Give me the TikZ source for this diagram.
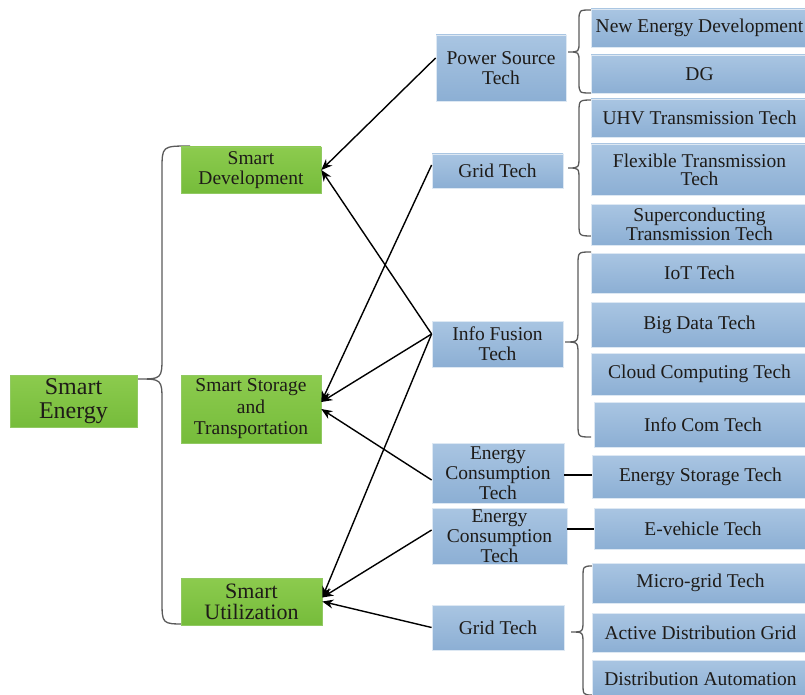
\documentclass[tikz,border=0pt]{standalone}
\usepackage{fontspec}
\setmainfont{Liberation Serif}
\usetikzlibrary{arrows.meta}

\definecolor{grnT}{HTML}{8CCB4E}
\definecolor{grnB}{HTML}{76BC3B}
\definecolor{bluT}{HTML}{A9C5E2}
\definecolor{bluB}{HTML}{8CAFD4}
\definecolor{ink}{HTML}{1E1B18}
\definecolor{bracec}{HTML}{5A5A5A}

\tikzset{
  box/.style={rectangle, inner sep=0pt, align=center, text=ink,
    font=\fontsize{19.5}{20}\selectfont},
  greenbox/.style={box, top color=grnT, bottom color=grnB, draw=grnB!80!white, line width=0.6pt},
  bluebox/.style={box, top color=bluT, bottom color=bluB, draw=white!60!bluT, line width=0.8pt},
  topic/.style={bluebox, minimum width=217pt},
  sz/.style 2 args={minimum width=#1pt, minimum height=#2pt},
  ht/.style={minimum height=#1pt},
  link/.style={draw=black, line width=1.4pt, -{Stealth[length=11pt,width=9pt]}},
  plain/.style={draw=black, line width=1.5pt},
  brace/.style={draw=bracec, line width=1.3pt},
}

\begin{document}
\begin{tikzpicture}[x=1pt, y=-1pt]
\useasboundingbox (0,0) rectangle (805,695);
\clip (0,0) rectangle (805,695);

% braces
\draw[brace] (190,146) .. controls (162,146) .. (162,170) -- (162,356)
  .. controls (162,379) .. (137,379) .. controls (162,379) .. (162,402)
  -- (162,600) .. controls (162,624) .. (185,624);
\draw[brace] (591,10) .. controls (579,10) .. (579,21) -- (579,42)
  .. controls (579,52) .. (568,52) .. controls (579,52) .. (579,62)
  -- (579,82) .. controls (579,93) .. (591,93);
\draw[brace] (593,100) .. controls (579,100) .. (579,112) -- (579,156)
  .. controls (579,168) .. (568,168) .. controls (579,168) .. (579,180)
  -- (579,224) .. controls (579,236) .. (593,236);
\draw[brace] (591,252) .. controls (578,252) .. (578,265) -- (578,329)
  .. controls (578,342) .. (565,342) .. controls (578,342) .. (578,355)
  -- (578,424) .. controls (578,437) .. (591,437);
\draw[brace] (593,566) .. controls (583,566) .. (583,578) -- (583,620)
  .. controls (583,632) .. (571,632) .. controls (583,632) .. (583,644)
  -- (583,683) .. controls (583,695) .. (593,695);

% goals
\node[greenbox, sz={127}{52}, font=\fontsize{24}{24}\selectfont] (se) at (73.5,401) {Smart\\Energy};
\node[greenbox, sz={140}{46}] (sd) at (251,170) {Smart\\Development};
\node[greenbox, sz={140}{68}, font=\fontsize{19.5}{21.5}\selectfont] (ss) at (251,409) {Smart Storage\\and\\Transportation};
\node[greenbox, sz={141}{47}, font=\fontsize{22}{21}\selectfont] (su) at (251.5,601.5) {Smart\\Utilization};

% technology groups
\node[bluebox, sz={130}{66}] (ps) at (501,68) {Power Source\\Tech};
\node[bluebox, sz={131}{34}] (gt1) at (497.5,171) {Grid Tech};
\node[bluebox, sz={131}{46}] (ifu) at (497.5,344) {Info Fusion\\Tech};
\node[bluebox, sz={132}{60}] (ec1) at (498,473) {Energy\\Consumption\\Tech};
\node[bluebox, sz={135}{56}] (ec2) at (499.5,536) {Energy\\Consumption\\Tech};
\node[bluebox, sz={132}{45}] (gt2) at (498,627.5) {Grid Tech};

% individual technologies
\node[topic, ht=38] (ned) at (699.5,28) {New Energy Development};
\node[topic, ht=38] (dg) at (699.5,74) {DG};
\node[topic, ht=38] (uhv) at (699.5,118) {UHV Transmission Tech};
\node[topic, ht=51, font=\fontsize{19.5}{18}\selectfont] (flex) at (699.5,169.5) {Flexible Transmission\\Tech};
\node[topic, ht=41, font=\fontsize{19.5}{17}\selectfont] (sup) at (699.5,224.5) {Superconducting\\Transmission Tech};
\node[topic, ht=40] (iot) at (699.5,273) {IoT Tech};
\node[topic, ht=45] (bd) at (699.5,324.5) {Big Data Tech};
\node[topic, ht=42] (cc) at (699.5,374) {Cloud Computing Tech};
\node[topic, ht=45] (ic) at (703,424.5) {Info Com Tech};
\node[topic, ht=43] (es) at (700.5,476.5) {Energy Storage Tech};
\node[topic, ht=41] (ev) at (703,528.5) {E-vehicle Tech};
\node[topic, ht=40] (mg) at (700.5,583) {Micro-grid Tech};
\node[topic, ht=39] (adg) at (700.5,632.5) {Active Distribution Grid};
\node[topic, ht=38] (da) at (700.5,679) {Distribution Automation};

% support links
\draw[link] ([yshift=10pt]ps.west) -- (sd.east);
\draw[link] ([yshift=10pt]ifu.west) -- (sd.east);
\draw[link] ([yshift=6pt]gt1.west) -- ([yshift=7pt]ss.east);
\draw[link] ([yshift=10pt]ifu.west) -- ([yshift=7pt]ss.east);
\draw[link] ([yshift=-7pt]ec1.west) -- (ss.east);
\draw[link] ([yshift=10pt]ifu.west) -- ([yshift=4pt]su.east);
\draw[link] ([yshift=6pt]ec2.west) -- ([yshift=4pt]su.east);
\draw[link] (gt2.west) -- (su.east);

\draw[plain] ([yshift=-2pt]ec1.east) -- ([yshift=-2pt]ec1.east -| es.west);
\draw[plain] ([yshift=7pt]ec2.east) -- ([yshift=7pt]ec2.east -| ev.west);
\end{tikzpicture}
\end{document}
